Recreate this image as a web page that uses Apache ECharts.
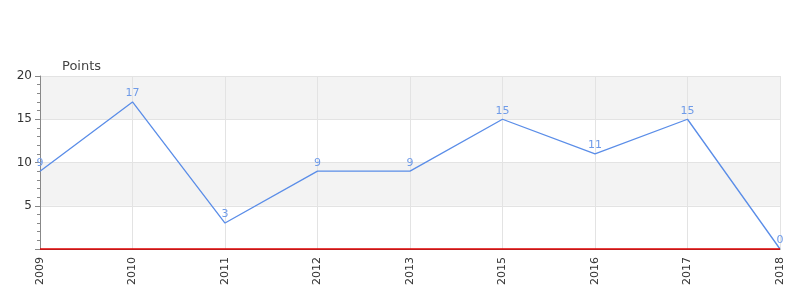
<!DOCTYPE html>
<html>
<head>
<meta charset="utf-8">
<script src="https://cdn.jsdelivr.net/npm/echarts@6/dist/echarts.min.js"></script>
<style>html,body{margin:0;padding:0;background:#fff}#c{width:800px;height:300px}</style>
</head>
<body>
<div id="c"></div>
<script>
const categories = ['2009','2010','2011','2012','2013','2015','2016','2017','2018'];
const points = [9, 17, 3, 9, 9, 15, 11, 15, 0];
const yTicks = [0, 5, 10, 15, 20];

const chart = echarts.init(document.getElementById('c'), null, {renderer: 'canvas'});
chart.setOption({
  animation: false,
  backgroundColor: '#fff',
  grid: {left: 40, right: 20, top: 76, bottom: 51, containLabel: false},
  xAxis: {
    type: 'category',
    data: categories,
    boundaryGap: false,
    offset: 1,
    axisLine: {show: true, lineStyle: {color: '#666', width: 1}},
    axisTick: {show: false},
    axisLabel: {rotate: 90, color: '#333', fontSize: 11, fontFamily: 'DejaVu Sans', margin: 7},
    splitLine: {show: true, lineStyle: {color: '#e3e3e3'}}
  },
  yAxis: {
    type: 'value',
    min: yTicks[0],
    max: yTicks[yTicks.length - 1],
    interval: 5,
    name: 'Points',
    nameLocation: 'end',
    nameGap: 3,
    nameTextStyle: {align: 'left', padding: [0, 0, 0, 22], color: '#444', fontSize: 13, fontFamily: 'DejaVu Sans'},
    axisLine: {show: true, lineStyle: {color: '#888'}},
    axisTick: {show: true, length: 5, lineStyle: {color: '#888'}},
    minorTick: {show: true, splitNumber: 5, length: 3, lineStyle: {color: '#888'}},
    axisLabel: {color: '#333', fontSize: 12, fontFamily: 'DejaVu Sans', margin: 8,
      formatter: v => v === 0 ? '' : String(v)},
    splitLine: {show: true, lineStyle: {color: '#e3e3e3'}},
    splitArea: {show: true, areaStyle: {color: ['rgba(255,255,255,0)', '#f3f3f3']}}
  },
  series: [{
    type: 'line',
    data: points,
    clip: false,
    symbol: 'circle',
    symbolSize: 0,
    showSymbol: true,
    lineStyle: {color: '#5a8de8', width: 1.3},
    itemStyle: {color: '#5a8de8'},
    label: {show: true, position: 'top', distance: 3, color: '#6f9be8', fontSize: 11, fontFamily: 'DejaVu Sans'},
    markLine: {
      silent: true,
      z: 10,
      symbol: ['none', 'none'],
      label: {show: false},
      lineStyle: {color: '#e00000', width: 1.5, type: 'solid'},
      data: [{yAxis: 0}]
    },
    z: 3
  }]
});
</script>
</body>
</html>
